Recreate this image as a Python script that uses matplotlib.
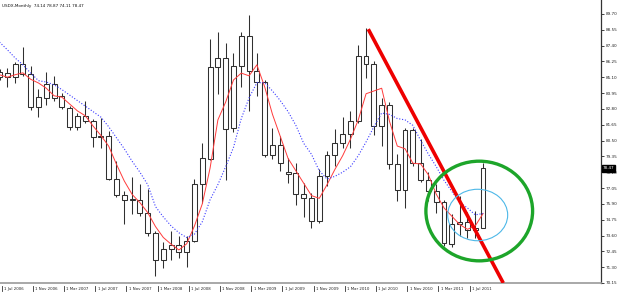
import matplotlib
matplotlib.use('Agg')
import matplotlib.pyplot as plt
from matplotlib.patches import Ellipse
import numpy as np

# USDX monthly candles, Jul 2006 .. Sep 2011
opens = [85.15, 85.43, 85.10, 86.06, 85.33, 82.92, 83.60, 84.63, 83.71, 82.87, 81.47, 82.31, 81.95,
         80.77, 80.82, 77.73, 76.54, 76.18, 76.18, 75.22, 73.75, 71.81, 72.60, 72.90, 72.42, 73.21, 77.32, 79.18, 85.84, 86.49,
         81.42, 85.93, 88.11, 85.52, 84.73, 79.42, 80.14, 78.21, 78.11, 76.64, 76.35, 74.66, 77.92, 79.44, 80.34, 80.99, 81.90, 86.66, 86.08, 81.54,
         83.11, 78.77, 76.91, 81.25, 78.84, 77.63, 76.83, 76.04, 72.97, 74.47, 74.59, 73.99, 74.14]
closes = [85.45, 85.12, 86.06, 85.35, 82.92, 83.64, 84.63, 83.60, 82.94, 81.47, 82.31, 81.95, 80.77,
          80.85, 77.73, 76.54, 76.18, 76.22, 75.22, 73.75, 71.81, 72.60, 72.90, 72.42, 73.21, 77.32, 79.25, 85.84, 86.49, 81.35,
          85.93, 88.11, 85.52, 84.73, 79.42, 80.14, 78.89, 78.10, 76.64, 76.35, 74.66, 77.92, 79.42, 80.34, 80.99, 81.90, 86.66, 86.08, 81.54, 83.11,
          78.77, 76.91, 81.25, 78.84, 77.63, 76.83, 76.04, 73.02, 74.47, 74.59, 73.99, 74.14, 78.47]
highs = [85.70, 85.80, 86.20, 87.33, 85.93, 84.25, 85.45, 85.16, 83.96, 83.04, 82.50, 83.35, 82.10,
         82.15, 81.18, 79.00, 76.83, 77.85, 77.37, 77.00, 73.94, 73.14, 73.94, 73.57, 73.60, 77.68, 80.34, 87.87, 88.42, 87.62,
         86.85, 88.42, 89.63, 86.85, 84.90, 81.42, 80.82, 79.20, 78.89, 77.44, 76.72, 78.40, 79.73, 81.35, 82.22, 82.63, 87.46, 88.66, 86.25, 83.60,
         83.30, 79.50, 81.42, 81.44, 80.58, 78.20, 77.32, 76.20, 75.15, 76.47, 75.31, 75.38, 78.87]
lows = [84.90, 84.40, 84.70, 85.16, 82.75, 82.22, 83.11, 83.35, 82.80, 81.30, 81.23, 81.79, 80.05,
        79.97, 77.60, 76.40, 74.47, 75.15, 75.02, 73.53, 70.63, 71.21, 71.84, 72.00, 71.28, 73.14, 75.94, 79.08, 83.88, 77.63,
        81.11, 84.39, 82.63, 83.71, 79.30, 79.13, 78.28, 77.45, 75.80, 74.91, 74.11, 74.54, 77.20, 78.64, 79.98, 79.98, 81.79, 85.04, 80.90, 80.09,
        78.40, 76.11, 75.63, 78.64, 77.50, 76.11, 75.27, 72.85, 72.80, 73.57, 73.45, 73.45, 74.11]

# moving averages as drawn on the chart
red_ma = [85.28, 85.10, 85.28, 85.42, 84.95, 84.68, 84.30, 83.75, 83.65, 83.15, 82.65, 82.30, 81.55,
          80.87, 80.09, 78.77, 77.56, 76.59, 75.99, 75.27, 74.25, 73.46, 72.97, 72.55, 73.00, 74.30, 75.90, 78.50, 82.00, 83.30,
          84.90, 85.40, 85.20, 86.00, 84.40, 82.40, 80.80, 79.20, 78.30, 77.40, 76.50, 76.30, 77.30, 78.40, 79.40, 80.60, 82.00, 83.90, 84.10, 84.30,
          81.90, 80.10, 79.90, 78.85, 78.80, 78.00, 76.60, 75.60, 75.00, 74.40, 74.05, 74.30, 75.20]
blue_ma = [87.65, 87.10, 86.50, 86.00, 85.40, 84.85, 84.75, 84.55, 84.20, 83.80, 83.40, 83.00, 82.60,
           82.20, 81.50, 80.70, 79.90, 79.00, 78.20, 77.30, 75.70, 74.95, 74.30, 73.80, 73.45, 73.70, 74.60, 76.20, 77.30, 78.60,
           80.00, 82.10, 83.60, 84.70, 84.70, 84.10, 83.40, 82.60, 81.60, 80.30, 79.50, 78.30, 77.70, 77.90, 78.20, 78.60, 79.40, 80.40, 81.50, 82.50,
           82.40, 82.10, 82.00, 81.60, 80.50, 79.50, 78.60, 77.60, 76.80, 76.00, 75.60, 75.10, 75.20]

date_labels = ["1 Jul 2006", "1 Nov 2006", "1 Mar 2007", "1 Jul 2007", "1 Nov 2007", "1 Mar 2008",
               "1 Jul 2008", "1 Nov 2008", "1 Mar 2009", "1 Jul 2009", "1 Nov 2009", "1 Mar 2010",
               "1 Jul 2010", "1 Nov 2010", "1 Mar 2011", "1 Jul 2011"]
price_ticks = [70.15, 71.30, 72.45, 73.60, 74.75, 75.90, 77.05, 78.20, 79.35, 80.50,
               81.65, 82.80, 83.95, 85.10, 86.25, 87.40, 88.55, 89.70]

x = np.arange(len(opens))
o = np.array(opens)
c = np.array(closes)

fig = plt.figure(figsize=(6.25, 2.96), dpi=100)
ax = fig.add_axes([0, 13 / 296, 601 / 625, 283 / 296])
ax.set_xlim(0.064, 77.12)
ax.set_ylim(70.22, 90.71)

# candles: wicks first, hollow bodies on top
ax.vlines(x, lows, highs, color='#303030', lw=0.75, zorder=2)
body_lo = np.minimum(o, c)
body_h = np.maximum(np.abs(c - o), 0.06)
ax.bar(x, body_h, bottom=body_lo, width=0.62, color='white', edgecolor='#303030', lw=0.75, zorder=3)

ax.plot(x, red_ma, color='#ff3b3b', lw=0.7, zorder=4)
ax.plot(x, blue_ma, color='#3a3aff', lw=0.8, ls=(0, (1, 1.6)), zorder=4)

# hand-drawn annotations
ax.plot([47.28, 64.59], [88.59, 70.15], color='#ee0000', lw=2.6, solid_capstyle='butt', zorder=5)
ax.add_patch(Ellipse((61.51, 75.38), 13.68, 7.24, fill=False, edgecolor='#1da52a', lw=2.4, zorder=5))
ax.add_patch(Ellipse((61.31, 75.09), 7.69, 3.74, fill=False, edgecolor='#4db8e8', lw=0.8, zorder=5))

# axes frame
for s in ['left', 'top']:
    ax.spines[s].set_visible(False)
ax.spines['right'].set_color('#333333')
ax.spines['right'].set_linewidth(0.9)
ax.spines['bottom'].set_color('#999999')
ax.spines['bottom'].set_linewidth(1.2)

ax.yaxis.tick_right()
ax.set_yticks(price_ticks)
ax.set_yticklabels([f"{v:.2f}" for v in price_ticks])
ax.tick_params(axis='y', direction='out', length=2, width=0.6, pad=1.5, labelsize=3.0, colors='#222222')

# date ticks: short mark with the label just to its right
ax.set_xticks([])
xt = ax.get_xaxis_transform()
for i, lab in enumerate(date_labels):
    pos = i * 4 + 0.28
    ax.plot([pos, pos], [-0.012, -0.03], color='#333333', lw=0.6, transform=xt, clip_on=False)
    ax.text(pos + 0.3, -0.021, lab, transform=xt, fontsize=2.8, ha='left', va='center', color='#222222')

ax.text(0.003, 0.987, "USDX,Monthly  74.14 78.87 74.11 78.47", transform=ax.transAxes,
        fontsize=3.0, ha='left', va='top', color='#111111')

# last price marker on the price scale
ax.text(1.003, closes[-1], f"{closes[-1]:.2f}", transform=ax.get_yaxis_transform(), fontsize=3.0,
        ha='left', va='center', color='white', zorder=10,
        bbox=dict(boxstyle='square,pad=0.25', fc='black', ec='black'))

plt.savefig('out.png', dpi=100)
plt.close()
